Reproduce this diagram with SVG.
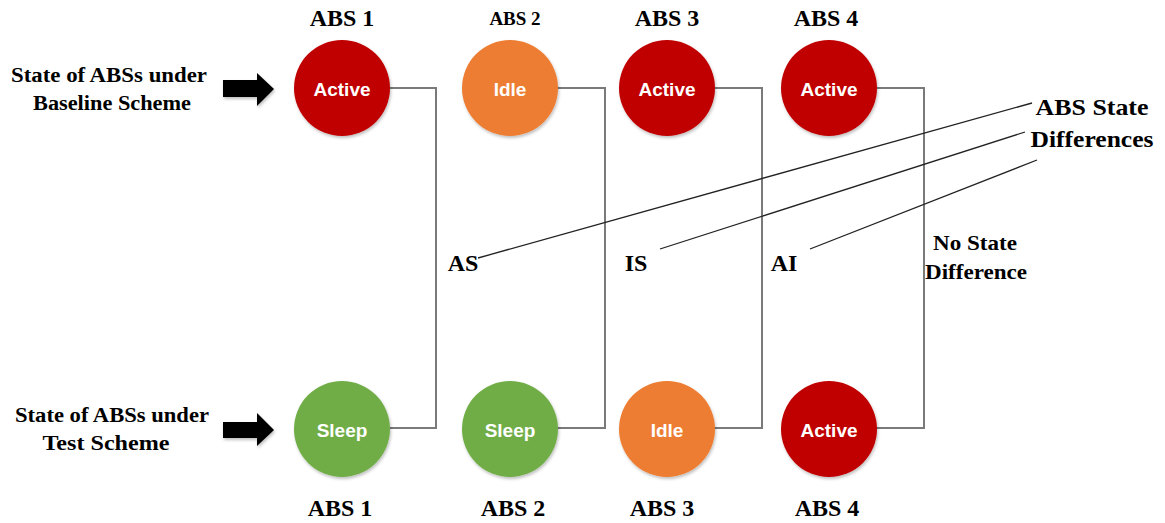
<svg xmlns="http://www.w3.org/2000/svg" width="1165" height="523" viewBox="0 0 1165 523">
<style>
.lbl{font-family:"Liberation Serif","Times New Roman",serif;font-weight:bold;fill:#000;text-anchor:middle}
.st{font-family:"Liberation Sans",Arial,sans-serif;font-weight:bold;fill:#fff;text-anchor:middle;font-size:19px}
.conn{fill:none;stroke:#7a7a7a;stroke-width:2}
.ptr{fill:none;stroke:#222;stroke-width:1.3}
.red{fill:#C00000}
.orange{fill:#ED7D31}
.green{fill:#70AD47}
</style>
<defs>
<filter id="sh" x="-20%" y="-20%" width="140%" height="140%">
<feDropShadow dx="1" dy="2" stdDeviation="1.5" flood-color="#000" flood-opacity="0.25"/>
</filter>
</defs>
<rect width="1165" height="523" fill="#fff"/>

<g id="connectors">
<polyline class="conn" points="389,88 436,88 436,428 390,428"/>
<polyline class="conn" points="557,88 605,88 605,428 557,428"/>
<polyline class="conn" points="714,88 762,88 762,428 714,428"/>
<polyline class="conn" points="876,88 924,88 924,428 876,428"/>
<line class="ptr" x1="1032" y1="103" x2="478" y2="258"/>
<line class="ptr" x1="1025" y1="132" x2="660" y2="249"/>
<line class="ptr" x1="1037" y1="160" x2="810" y2="249"/>
</g>

<g id="left-top">
<text class="lbl" font-size="20" x="109" y="82" textLength="196" lengthAdjust="spacingAndGlyphs">State of ABSs under</text>
<text class="lbl" font-size="20" x="112" y="110" textLength="158" lengthAdjust="spacingAndGlyphs">Baseline Scheme</text>
<polygon fill="#000" filter="url(#sh)" points="223,80 257,80 257,73 274,89 257,106 257,97 223,97"/>
</g>
<g id="left-bottom">
<text class="lbl" font-size="20" x="112" y="422" textLength="194" lengthAdjust="spacingAndGlyphs">State of ABSs under</text>
<text class="lbl" font-size="20" x="106" y="450" textLength="127" lengthAdjust="spacingAndGlyphs">Test Scheme</text>
<polygon fill="#000" filter="url(#sh)" points="223,422 257,422 257,413 274,430 257,446 257,438 223,438"/>
</g>

<g id="abs1-top">
<text class="lbl" font-size="24" x="342" y="26">ABS 1</text>
<circle class="red" cx="342" cy="88" r="48" filter="url(#sh)"/>
<text class="st" x="342" y="96">Active</text>
</g>
<g id="abs2-top">
<text class="lbl" font-size="19" x="515" y="25">ABS 2</text>
<circle class="orange" cx="510" cy="88" r="48" filter="url(#sh)"/>
<text class="st" x="510" y="96">Idle</text>
</g>
<g id="abs3-top">
<text class="lbl" font-size="24" x="667" y="26">ABS 3</text>
<circle class="red" cx="667" cy="88" r="48" filter="url(#sh)"/>
<text class="st" x="667" y="96">Active</text>
</g>
<g id="abs4-top">
<text class="lbl" font-size="24" x="826" y="26">ABS 4</text>
<circle class="red" cx="829" cy="88" r="48" filter="url(#sh)"/>
<text class="st" x="829" y="96">Active</text>
</g>

<g id="abs1-bottom">
<circle class="green" cx="342" cy="429" r="48" filter="url(#sh)"/>
<text class="st" x="342" y="437">Sleep</text>
<text class="lbl" font-size="24" x="340" y="516">ABS 1</text>
</g>
<g id="abs2-bottom">
<circle class="green" cx="510" cy="429" r="48" filter="url(#sh)"/>
<text class="st" x="510" y="437">Sleep</text>
<text class="lbl" font-size="24" x="513" y="516">ABS 2</text>
</g>
<g id="abs3-bottom">
<circle class="orange" cx="667" cy="429" r="48" filter="url(#sh)"/>
<text class="st" x="667" y="437">Idle</text>
<text class="lbl" font-size="24" x="662" y="516">ABS 3</text>
</g>
<g id="abs4-bottom">
<circle class="red" cx="829" cy="429" r="48" filter="url(#sh)"/>
<text class="st" x="829" y="437">Active</text>
<text class="lbl" font-size="24" x="827" y="516">ABS 4</text>
</g>

<g id="diff-labels">
<text class="lbl" font-size="24" x="463" y="271">AS</text>
<text class="lbl" font-size="24" x="636" y="271">IS</text>
<text class="lbl" font-size="24" x="784" y="271">AI</text>
<text class="lbl" font-size="22" x="975" y="250" textLength="84" lengthAdjust="spacingAndGlyphs">No State</text>
<text class="lbl" font-size="22" x="976" y="279" textLength="102" lengthAdjust="spacingAndGlyphs">Difference</text>
</g>
<g id="abs-state-differences">
<text class="lbl" font-size="24" x="1092" y="115" textLength="113" lengthAdjust="spacingAndGlyphs">ABS State</text>
<text class="lbl" font-size="24" x="1092" y="147" textLength="123" lengthAdjust="spacingAndGlyphs">Differences</text>
</g>
</svg>
